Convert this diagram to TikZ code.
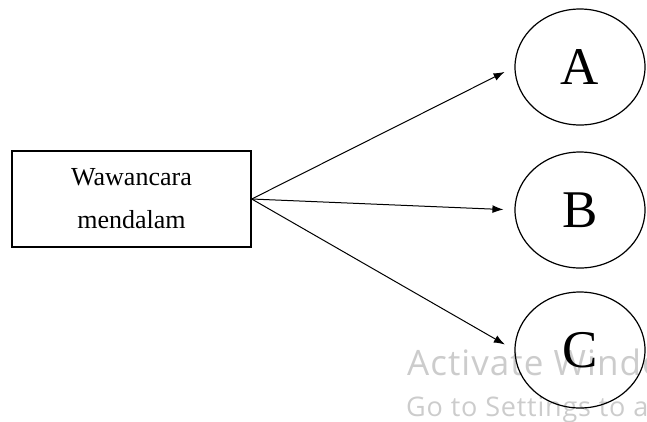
\documentclass[tikz,border=0pt]{standalone}
\usepackage{fontspec}
\setmainfont{Liberation Serif}
\newfontfamily\winfont[LetterSpace=3]{Open Sans}
\usetikzlibrary{shapes.geometric, arrows.meta}
\tikzstyle{textbox} = [rectangle, minimum width=239pt, minimum height=96pt, align=center, draw=black, line width=1.4pt, font=\fontsize{26}{43}\selectfont]
\tikzstyle{letter} = [ellipse, minimum width=130pt, minimum height=116pt, inner sep=0, draw=black, line width=1.2pt, font=\fontsize{53}{53}\selectfont]
\tikzstyle{arrow} = [line width=1pt,-{Latex[length=11pt,width=8pt]}, shorten >=11pt]
\tikzstyle{watermark} = [gray!40, anchor=base west, inner sep=0]

\begin{document}
\begin{tikzpicture}[x=1pt,y=-1pt]
\useasboundingbox (0,0) rectangle (647,421);
\clip (0,0) rectangle (647,421);

\node[watermark, font=\winfont\fontsize{35}{35}\selectfont] (activate) at (407,375) {Activate Windows};
\node[watermark, font=\winfont\fontsize{27}{27}\selectfont] (settings) at (406,416) {Go to Settings to activate Windows.};

\node[textbox] (wawancara) at (131.5,199) {Wawancara\\mendalam};
\node[letter] (A) at (580,67) {A};
\node[letter] (B) at (580,210) {B};
\node[letter] (C) at (580,350) {C};

\draw[arrow] (wawancara.east) -- (A.west);
\draw[arrow] (wawancara.east) -- (B.west);
\draw[arrow] (wawancara.east) -- (C.west);
\end{tikzpicture}
\end{document}
